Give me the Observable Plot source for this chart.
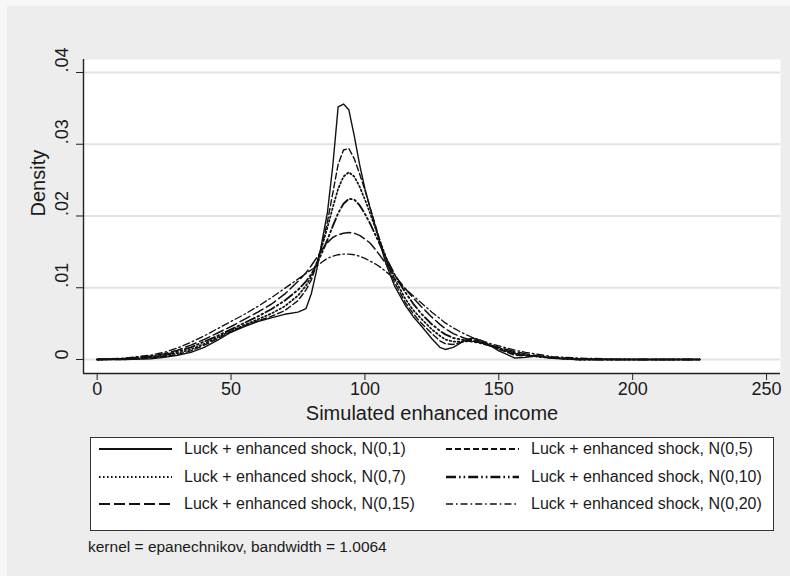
<!DOCTYPE html>
<html>
<head>
<meta charset="utf-8">
<script src="https://cdn.jsdelivr.net/npm/d3@7"></script>
<script src="https://cdn.jsdelivr.net/npm/@observablehq/plot@0.6"></script>
<style>
  html, body { margin: 0; padding: 0; }
  body { width: 790px; height: 576px; overflow: hidden; background: #f7f7f7; position: relative;
         font-family: "Liberation Sans", Arial, sans-serif; color: #1a1a1a; }
  #bg { position: absolute; left: 7px; top: 6px; right: 0; bottom: 0; background: #ededed; }
  #chart { position: absolute; left: 0; top: 0; }
  #legend { position: absolute; left: 90px; top: 437px; width: 684px; height: 94px; box-sizing: border-box;
            border: 1.5px solid #333; background: #ffffff; }
  .item { position: absolute; height: 20px; display: flex; align-items: center; white-space: nowrap; }
  .item svg { display: block; }
  .item span { font-size: 16px; margin-left: 12px; }
  #caption { position: absolute; left: 88px; top: 538px; font-size: 15.5px; white-space: nowrap; }
</style>
</head>
<body>
<div id="bg"></div>
<div id="chart"></div>
<div id="legend"></div>
<div id="caption"></div>
<script>
// ---- data ----
const incomeGrid = [0,10,20,25,30,35,40,45,50,55, 60,65,70,75,78,80,82,84,86,88,
  90,92,94,96,98,100,102,104,106,108, 111,115,118,121,125,128,130,133,137,140,
  143,147,150,153,156,160,165,170,175,180, 190,200,210,225];

const densN1 = [0,0,0.0001,0.0003,0.0006,0.0010,0.0017,0.0027,0.0038,0.0046,
  0.0053,0.0058,0.0063,0.0066,0.0071,0.0092,0.0125,0.0165,0.0205,0.0270,
  0.0352,0.0356,0.0348,0.0312,0.0272,0.0238,0.0210,0.0184,0.0157,0.0132,
  0.0103,0.0076,0.0060,0.0047,0.0029,0.0017,0.0014,0.0017,0.0026,0.0030,
  0.0027,0.0019,0.0012,0.0007,0.0002,0.0003,0.0005,0.0002,0.0001,0,
  0,0,0,0];
const densN5 = [0,0,0.0002,0.0004,0.0007,0.0012,0.0020,0.0029,0.0039,0.0047,
  0.0054,0.0060,0.0068,0.0082,0.0097,0.0111,0.0133,0.0160,0.0192,0.0232,
  0.0272,0.0292,0.0294,0.0280,0.0259,0.0236,0.0211,0.0186,0.0161,0.0138,
  0.0108,0.0080,0.0064,0.0051,0.0036,0.0026,0.0022,0.0021,0.0025,0.0028,
  0.0026,0.0020,0.0014,0.0010,0.0006,0.0005,0.0004,0.0002,0.0001,0,
  0,0,0,0];
const densN7 = [0,0.0001,0.0003,0.0005,0.0009,0.0014,0.0022,0.0031,0.0040,0.0048,
  0.0056,0.0064,0.0074,0.0089,0.0103,0.0116,0.0135,0.0158,0.0184,0.0212,
  0.0238,0.0255,0.0261,0.0255,0.0241,0.0223,0.0203,0.0182,0.0161,0.0141,
  0.0113,0.0085,0.0069,0.0057,0.0042,0.0033,0.0028,0.0025,0.0025,0.0026,
  0.0024,0.0019,0.0015,0.0011,0.0008,0.0006,0.0004,0.0002,0.0001,0,
  0,0,0,0];
const densN10 = [0,0.0001,0.0004,0.0006,0.0011,0.0017,0.0025,0.0033,0.0042,0.0051,
  0.0060,0.0070,0.0082,0.0097,0.0109,0.0119,0.0133,0.0149,0.0167,0.0186,
  0.0204,0.0217,0.0224,0.0223,0.0215,0.0203,0.0189,0.0173,0.0157,0.0141,
  0.0119,0.0094,0.0078,0.0064,0.0049,0.0040,0.0035,0.0030,0.0027,0.0025,
  0.0023,0.0019,0.0016,0.0012,0.0009,0.0006,0.0004,0.0002,0.0001,0,
  0,0,0,0];
const densN15 = [0,0.0001,0.0005,0.0008,0.0013,0.0020,0.0028,0.0037,0.0046,0.0056,
  0.0066,0.0077,0.0091,0.0109,0.0121,0.0131,0.0142,0.0153,0.0163,0.0170,
  0.0174,0.0176,0.0177,0.0176,0.0173,0.0168,0.0162,0.0153,0.0143,0.0133,
  0.0118,0.0099,0.0086,0.0074,0.0059,0.0049,0.0043,0.0036,0.0030,0.0027,
  0.0024,0.0020,0.0017,0.0014,0.0011,0.0008,0.0005,0.0003,0.0002,0.0001,
  0,0,0,0];
const densN20 = [0,0.0002,0.0006,0.0010,0.0016,0.0024,0.0033,0.0043,0.0053,0.0063,
  0.0074,0.0086,0.0099,0.0112,0.0120,0.0125,0.0130,0.0136,0.0141,0.0144,
  0.0146,0.0147,0.0147,0.0146,0.0144,0.0141,0.0137,0.0133,0.0128,0.0122,
  0.0113,0.0099,0.0089,0.0079,0.0066,0.0057,0.0051,0.0044,0.0036,0.0031,
  0.0027,0.0022,0.0019,0.0016,0.0013,0.0010,0.0007,0.0004,0.0003,0.0002,
  0.0001,0,0,0];

const seriesNames = [
  "Luck + enhanced shock, N(0,1)", "Luck + enhanced shock, N(0,5)",
  "Luck + enhanced shock, N(0,7)", "Luck + enhanced shock, N(0,10)",
  "Luck + enhanced shock, N(0,15)", "Luck + enhanced shock, N(0,20)"
];
const seriesValues = [densN1, densN5, densN7, densN10, densN15, densN20];

const xTicks = [0, 50, 100, 150, 200, 250];
const xTickLabels = ["0", "50", "100", "150", "200", "250"];
const yTicks = [0, 0.01, 0.02, 0.03, 0.04];
const yTickLabels = ["0", ".01", ".02", ".03", ".04"];
const xTitle = "Simulated enhanced income";
const yTitle = "Density";
const captionText = "kernel = epanechnikov, bandwidth = 1.0064";

// ---- styles ----
const lineStyles = [
  {dash: null, width: 1.4},
  {dash: "6,3", width: 1.4},
  {dash: "1.6,2.4", width: 1.7},
  {dash: "10,3,1.6,3,1.6,3", width: 1.9},
  {dash: "11,4", width: 1.5},
  {dash: "7,3,1.6,3", width: 1.3}
];

const rows = [];
seriesValues.forEach((vals, s) => vals.forEach((v, i) => rows.push({series: seriesNames[s], income: incomeGrid[i], density: v})));

const xMin = -5.1, xMax = 255.2;
const yMin = -0.00195, yMax = 0.04181;

const lineMarks = seriesNames.slice().reverse().map(name => {
  const s = seriesNames.indexOf(name);
  return Plot.line(rows.filter(d => d.series === name), {
    x: "income", y: "density", stroke: "#111", strokeWidth: lineStyles[s].width,
    strokeDasharray: lineStyles[s].dash || undefined, curve: "linear"
  });
});

const chart = Plot.plot({
  width: 790, height: 430,
  marginLeft: 83, marginRight: 10, marginTop: 59, marginBottom: 57,
  x: {domain: [xMin, xMax], axis: null},
  y: {domain: [yMin, yMax], axis: null},
  style: {background: "transparent", fontFamily: "Liberation Sans, Arial, sans-serif", color: "#1a1a1a"},
  marks: [
    Plot.frame({fill: "white", stroke: "none"}),
    Plot.gridY(yTicks, {stroke: "#e3e3e3", strokeOpacity: 1, strokeWidth: 2.2}),
    ...lineMarks,
    Plot.ruleX([xMin], {stroke: "#222", strokeWidth: 1.4}),
    Plot.ruleY([yMin], {stroke: "#222", strokeWidth: 1.4}),
    Plot.axisX(xTicks, {tickSize: 7, tickPadding: 2, fontSize: 18, label: null,
      tickFormat: d => xTickLabels[xTicks.indexOf(d)], stroke: "#222"}),
    Plot.axisY(yTicks, {tickSize: 7, label: null, tickFormat: () => "", stroke: "#222"}),
    Plot.text(yTicks, {y: d => d, frameAnchor: "left", dx: -21, rotate: -90, fontSize: 18,
      text: d => yTickLabels[yTicks.indexOf(d)], fill: "#1a1a1a"}),
    Plot.text([yTitle], {frameAnchor: "left", dx: -45, rotate: -90, fontSize: 20, fill: "#1a1a1a"}),
    Plot.text([xTitle], {frameAnchor: "bottom", dy: 46, fontSize: 20, fill: "#1a1a1a"})
  ]
});
document.getElementById("chart").appendChild(chart);

// ---- legend ----
const legend = document.getElementById("legend");
const colX = [8, 355];        // sample start, relative to legend box
const rowY = [11, 38.5, 66];  // row centers (box-relative)
seriesNames.forEach((name, s) => {
  const col = s % 2, row = Math.floor(s / 2);
  const item = document.createElement("div");
  item.className = "item";
  item.style.left = colX[col] + "px";
  item.style.top = (rowY[row] - 10) + "px";
  const st = lineStyles[s];
  item.innerHTML = `<svg width="73" height="10"><line x1="0" y1="5" x2="73" y2="5" stroke="#111" stroke-width="${st.width + 0.4}" ${st.dash ? `stroke-dasharray="${st.dash}"` : ""}/></svg><span>${name}</span>`;
  legend.appendChild(item);
});
document.getElementById("caption").textContent = captionText;
</script>
</body>
</html>
